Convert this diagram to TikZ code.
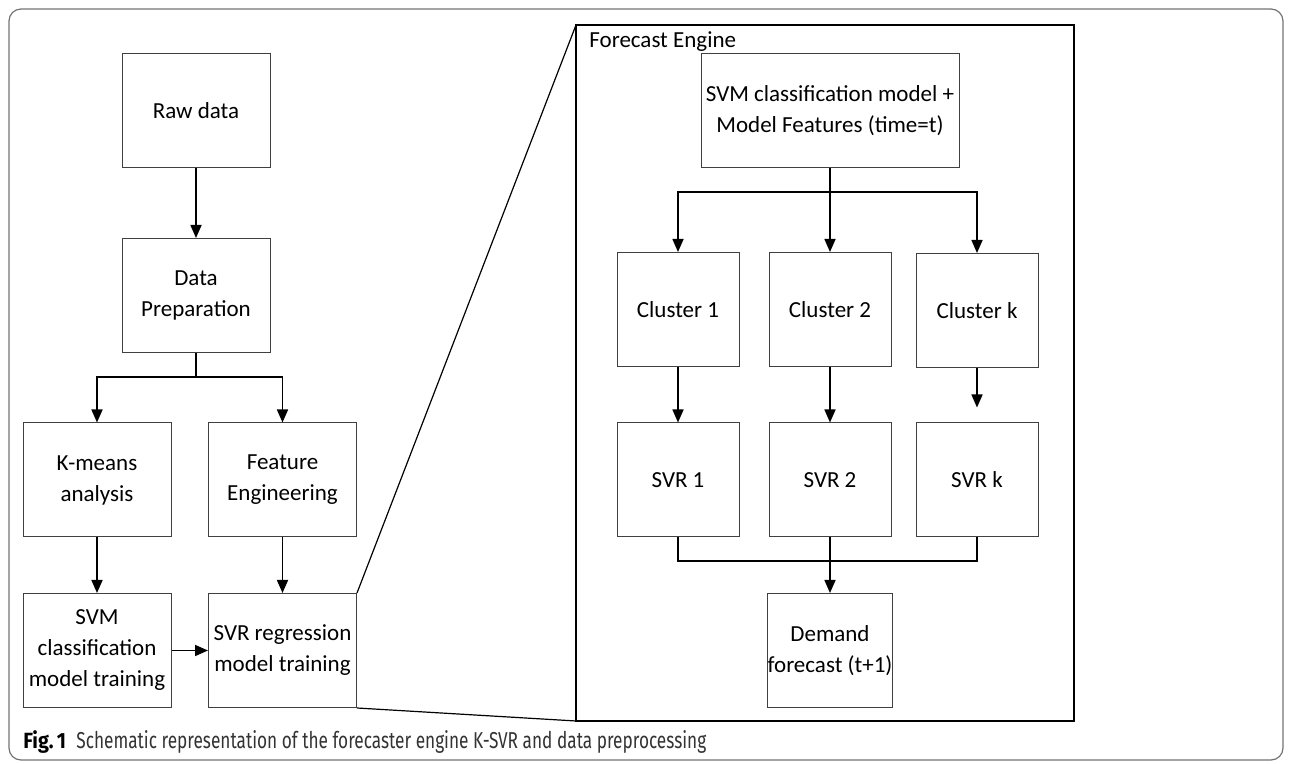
\documentclass[tikz,border=0pt]{standalone}
\usepackage{fontspec}
\setmainfont{Carlito}
\newfontfamily\capfont{Fira Sans}
\usepackage{graphicx}
\usetikzlibrary{arrows.meta, positioning, calc}
\tikzset{
    block/.style={
        draw=black!75,
        line width=0.5pt,
        rectangle,
        align=center,
        minimum width=74pt,
        minimum height=57pt,
        inner sep=0pt,
        font=\fontsize{11.5}{15.5}\selectfont,
    },
    smallblock/.style={
        block,
        minimum width=61pt,
    },
    wideblock/.style={
        block,
        minimum width=129pt,
    },
    flow/.style={
        line width=0.8pt,
        -{Triangle[width=5.5pt,length=6.5pt]},
    },
    joint/.style={
        line width=0.8pt,
    },
}

\begin{document}
\begin{tikzpicture}[x=0.5pt,y=-0.5pt]

\useasboundingbox (0,0) rectangle (1292,764);
\draw[black!55, line width=0.6pt, rounded corners=6pt] (9,9) rectangle (1283,760);

% data preprocessing side
\node[block] (raw) at (196,111) {Raw data};
\node[block] (prep) at (196,295.5) {Data\\Preparation};
\node[block] (kmeans) at (97,480) {K-means\\analysis};
\node[block] (feat) at (282.5,480) {Feature\\Engineering};
\node[block] (svmtrain) at (97,650.5) {SVM\\classification\\model training};
\node[block] (svrtrain) at (282.5,650.5) {SVR regression\\model training};

\draw[flow] (raw) -- (prep);
\coordinate (split) at (196,377);
\draw[joint] (prep.south) -- (split);
\draw[flow] (split) -| (kmeans.north);
\draw[flow] (split) -| (feat.north);
\draw[flow] (kmeans) -- (svmtrain);
\draw[flow] (feat) -- (svrtrain);
\draw[flow] (svmtrain) -- (svrtrain);

% forecast engine
\coordinate (fetl) at (576,25);
\coordinate (febr) at (1074,721);
\draw[black, line width=0.8pt] (fetl) rectangle (febr);
\node[anchor=north west, inner sep=0pt, font=\fontsize{11.5}{14}\selectfont] (fe) at (589,31) {Forecast Engine};
\draw[black, line width=0.6pt] (svrtrain.north east) -- (fetl);
\draw[black, line width=0.6pt] (svrtrain.south east) -- (fetl |- febr);

\node[wideblock] (svm) at (830,111) {SVM classification model +\\Model Features (time=t)};
\node[smallblock] (c1) at (678,309.5) {Cluster 1};
\node[smallblock] (c2) at (830,309.5) {Cluster 2};
\node[smallblock] (ck) at (977,310.5) {Cluster k};
\node[smallblock] (s1) at (678,480) {SVR 1};
\node[smallblock] (s2) at (830,480) {SVR 2};
\node[smallblock] (sk) at (977,480) {SVR k};
\node[smallblock] (dem) at (830,650.5) {Demand\\forecast (t+1)};

\coordinate (fork) at (830,192);
\draw[joint] (svm.south) -- (fork);
\draw[flow] (fork) -| (c1.north);
\draw[flow] (fork) -- (c2.north);
\draw[flow] (fork) -| (ck.north);
\draw[flow] (c1) -- (s1);
\draw[flow] (c2) -- (s2);
\draw[flow, shorten >=7.5pt] (ck) -- (sk);

\coordinate (merge) at (830,561);
\draw[joint] (s1.south) |- (merge) -| (sk.south);
\draw[flow] (s2.south) -- (dem.north);

\node[anchor=base west, inner sep=0pt, font=\capfont\fontsize{11}{12}\selectfont\bfseries] (fig) at (23,748) {\scalebox{0.9}[1]{Fig.\,1}};
\node[anchor=base west, inner sep=0pt, font=\capfont\fontsize{11.5}{12}\selectfont, text=black!80] (cap) at (76,748)
    {\scalebox{0.75}[1]{Schematic representation of the forecaster engine K-SVR and data preprocessing}};

\end{tikzpicture}
\end{document}
